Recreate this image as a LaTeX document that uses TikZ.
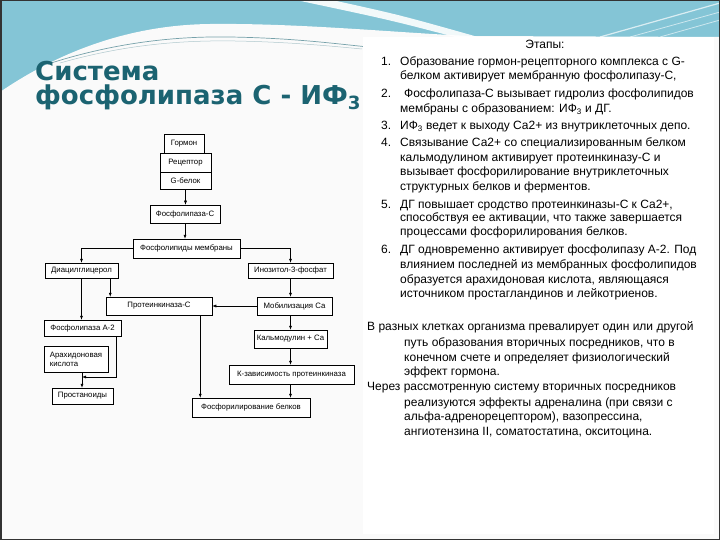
\documentclass[tikz,border=0pt]{standalone}
\usepackage{fontspec}
\setmainfont{Liberation Sans}
\newfontfamily\titlefont{DejaVu Sans}
\usetikzlibrary{arrows.meta,shadows}
\definecolor{wavebg}{RGB}{132,197,214}
\definecolor{titleteal}{RGB}{27,99,113}
\definecolor{bodybg}{RGB}{250,250,250}
\tikzset{
  box/.style={draw=black, line width=0.5pt, fill=white, inner sep=1pt,
    font=\fontsize{7.8}{9}\selectfont, align=center,
    drop shadow={shadow xshift=1.2pt, shadow yshift=-1.2pt, fill=black!30}},
  arr/.style={-{Latex[length=4pt,width=3pt]}, line width=0.5pt},
  txt/.style={anchor=base west, inner sep=0pt, font=\fontsize{12}{13}\selectfont},
  ttl/.style={anchor=base west, inner sep=0pt, text=titleteal,
    font=\titlefont\bfseries\fontsize{26}{30}\selectfont}
}
\begin{document}
\begin{tikzpicture}[x=1pt,y=-1pt]
\useasboundingbox (0,0) rectangle (720,540);
% background
\fill[wavebg] (0,0) rectangle (720,95);
\fill[bodybg] (0,92) .. controls (50,58) and (120,25) .. (210,24)
  .. controls (300,23) and (400,33) .. (470,36) -- (720,37) -- (720,540) -- (0,540) -- cycle;
\fill[white, opacity=0.9] (296,0) -- (332,0) .. controls (400,15) .. (478,37) -- (455,37) .. controls (390,20) .. cycle;
\draw[white, opacity=0.7, line width=1.2pt] (600,37) -- (720,3);
\draw[white, opacity=0.6, line width=0.8pt] (630,37) -- (720,12);
\draw[white, opacity=0.6, line width=0.8pt] (660,37) -- (720,20);
\draw[titleteal!60, line width=0.7pt] (48,64) .. controls (110,44) and (170,36) .. (230,37)
  .. controls (290,38) and (330,43) .. (368,47);
\draw[titleteal!35, line width=0.5pt] (60,63) .. controls (120,46) and (175,40) .. (235,41)
  .. controls (290,42) and (330,46) .. (362,49);
\fill[white] (363,37) rectangle (714,534);
\draw[line width=1.5pt, black!80] (0.75,0.75) rectangle (719.25,539.25);

% title
\node[ttl] (t1) at (35,81) {Система};
\node[ttl] (t2) at (35,105) {фосфолипаза С - ИФ\textsubscript{3}};

% flowchart
\node[box, minimum width=40pt, minimum height=19pt] (gorm) at (184,143.5) {Гормон};
\node[box, minimum width=51pt, minimum height=19pt] (rec) at (185.5,162.5) {Рецептор};
\node[box, minimum width=51pt, minimum height=17pt] (gb) at (185.5,180.5) {G-белок};
\node[box, minimum width=70pt, minimum height=18pt] (plc) at (185,214) {Фосфолипаза-С};
\node[box, minimum width=107pt, minimum height=19pt] (pl) at (186.5,248.5) {Фосфолипиды мембраны};
\node[box, minimum width=73pt, minimum height=15pt] (dag) at (81.5,270.5) {Диацилглицерол};
\node[box, minimum width=85pt, minimum height=15pt] (ip3) at (290.5,270.5) {Инозитол-3-фосфат};
\node[box, minimum width=106pt, minimum height=18pt] (pkc) at (159,306) {Протеинкиназа-С};
\node[box, minimum width=75pt, minimum height=18pt] (mob) at (294.5,306) {Мобилизация Са};
\node[box, minimum width=77pt, minimum height=16pt] (pla2) at (82.5,328) {Фосфолипаза А-2};
\node[box, minimum width=64pt, minimum height=26pt, align=left] (arach) at (76,359) {Арахидоновая\\кислота};
\node[box, minimum width=61pt, minimum height=16pt] (prost) at (82.5,396) {Простаноиды};
\node[box, minimum width=73pt, minimum height=18pt] (calm) at (290.5,339) {Кальмодулин + Са};
\node[box, minimum width=125pt, minimum height=19pt] (kzav) at (291.5,374.5) {К-зависимость протеинкиназа};
\node[box, minimum width=118pt, minimum height=19pt] (phos) at (251,407.5) {Фосфорилирование белков};
\coordinate (j) at (82,377);

\draw[arr] (gb.south) -- (gb.south |- plc.north);
\draw[arr] (plc.south) -- (plc.south |- pl.north);
\draw[arr] (pl.west) -| (dag.north);
\draw[arr] (pl.east) -| (ip3.north);
\draw[arr] ([xshift=-8pt]dag.south east) -- ([xshift=-8pt]dag.south east |- pkc.north);
\draw[arr] (dag.south) -- (dag.south |- pla2.north);
\draw[arr] (ip3.south) -- (ip3.south |- mob.north);
\draw[arr] (mob.west) -- (mob.west -| pkc.east);
\draw[arr] (calm.north |- mob.south) -- (calm.north);
\draw[arr] (calm.south) -- (calm.south |- kzav.north);
\draw[arr] (calm.south |- kzav.south) -- (calm.south |- phos.north);
\draw[arr] ([xshift=-12pt]pkc.south east) -- ([xshift=-12pt]pkc.south east |- phos.north);
\draw[arr] ([xshift=-5pt]pla2.south east) |- (j);
\draw[arr] (j |- arach.south) -- (j |- prost.north);

% right text
\node[txt, anchor=base] (et) at (545,49) {Этапы:};
\node[txt] (n1) at (381,66) {1.};
\node[txt] (l1a) at (400,66) {Образование гормон-рецепторного комплекса с G-};
\node[txt] (l1b) at (400,80) {белком активирует мембранную фосфолипазу-С,};
\node[txt] (n2) at (381,98) {2.};
\node[txt] (l2a) at (404,98) {Фосфолипаза-С вызывает гидролиз фосфолипидов};
\node[txt] (l2b) at (400,113) {мембраны с образованием: ИФ\textsubscript{3} и ДГ.};
\node[txt] (n3) at (381,130) {3.};
\node[txt] (l3a) at (400,130) {ИФ\textsubscript{3} ведет к выходу Са2+ из внутриклеточных депо.};
\node[txt] (n4) at (381,147) {4.};
\node[txt] (l4a) at (400,147) {Связывание Са2+ со специализированным белком};
\node[txt] (l4b) at (400,162) {кальмодулином активирует протеинкиназу-С и};
\node[txt] (l4c) at (400,176) {вызывает фосфорилирование внутриклеточных};
\node[txt] (l4d) at (400,191) {структурных белков и ферментов.};
\node[txt] (n5) at (381,208) {5.};
\node[txt] (l5a) at (400,208) {ДГ повышает сродство протеинкиназы-С к Са2+,};
\node[txt] (l5b) at (400,222) {способствуя ее активации, что также завершается};
\node[txt] (l5c) at (400,236) {процессами фосфорилирования белков.};
\node[txt] (n6) at (381,254) {6.};
\node[txt] (l6a) at (400,254) {ДГ одновременно активирует фосфолипазу А-2. Под};
\node[txt] (l6b) at (400,268) {влиянием последней из мембранных фосфолипидов};
\node[txt] (l6c) at (400,283) {образуется арахидоновая кислота, являющаяся};
\node[txt] (l6d) at (400,297) {источником простагландинов и лейкотриенов.};
\node[txt] (p1a) at (367,330) {В разных клетках организма превалирует один или другой};
\node[txt] (p1b) at (404,346) {путь образования вторичных посредников, что в};
\node[txt] (p1c) at (404,361) {конечном счете и определяет физиологический};
\node[txt] (p1d) at (404,375) {эффект гормона.};
\node[txt] (p2a) at (367,390) {Через рассмотренную систему вторичных посредников};
\node[txt] (p2b) at (404,406) {реализуются эффекты адреналина (при связи с};
\node[txt] (p2c) at (404,420) {альфа-адренорецептором), вазопрессина,};
\node[txt] (p2d) at (404,435) {ангиотензина II, соматостатина, окситоцина.};
\end{tikzpicture}
\end{document}
